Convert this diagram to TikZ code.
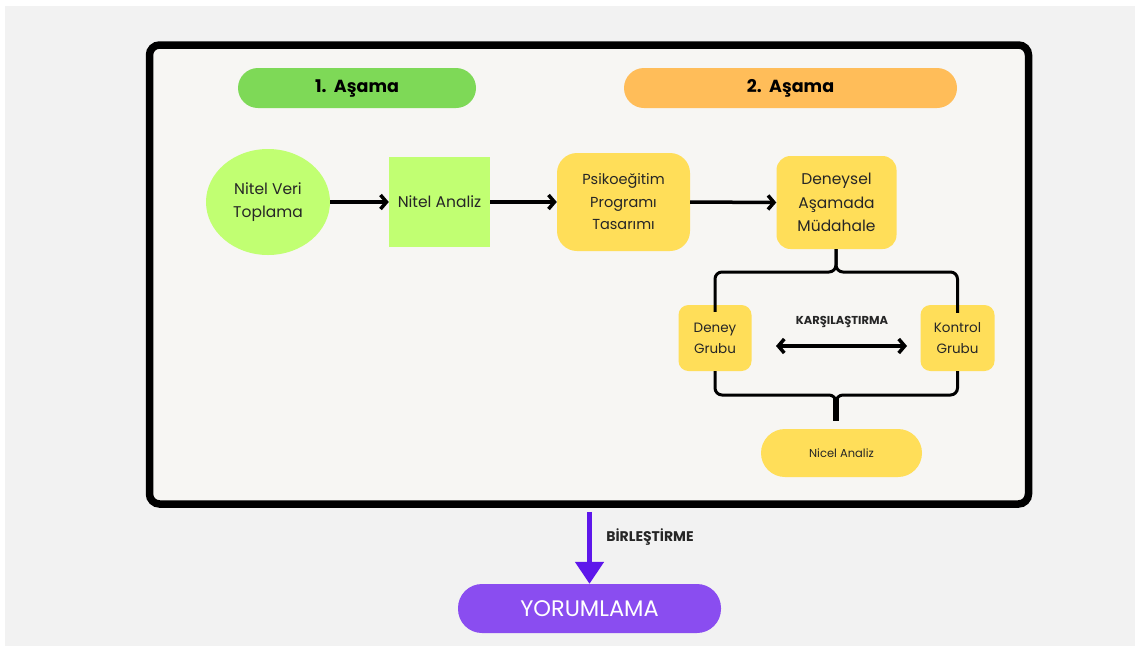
\documentclass[tikz,border=0pt]{standalone}
\usepackage{fontspec}
\setmainfont{Poppins}
\usetikzlibrary{arrows.meta,shapes.geometric}

\definecolor{pagegray}{HTML}{F2F2F2}
\definecolor{panelfill}{HTML}{F7F6F3}
\definecolor{stagegreen}{HTML}{7ED957}
\definecolor{stageorange}{HTML}{FFBD59}
\definecolor{lime}{HTML}{C1FF72}
\definecolor{sun}{HTML}{FFDE59}
\definecolor{violetline}{HTML}{5E17EB}
\definecolor{violetfill}{HTML}{8A4DF0}

\tikzset{
  stagepill/.style={rounded corners=20pt, minimum height=40pt, inner sep=0pt,
    font=\fontsize{17.5}{20}\selectfont\bfseries},
  bodytext/.style={align=center, text=black!85, font=\fontsize{15.5}{23.5}\selectfont},
  sunbox/.style={bodytext, fill=sun, inner sep=0pt},
  flow/.style={line width=3.5pt, -{Straight Barb[length=6pt,width=14pt]}},
  twoway/.style={line width=3.5pt, {Straight Barb[length=6pt,width=14pt]}-{Straight Barb[length=6pt,width=14pt]}},
  brace/.style={line width=3pt, rounded corners=7pt},
  smalllabel/.style={font=\fontsize{11.5}{13}\selectfont\bfseries, text=black!85},
}

\begin{document}
\begin{tikzpicture}[x=1pt,y=-1pt]
  \useasboundingbox (0,0) rectangle (1135,646);
  \fill[white] (0,0) rectangle (1135,646);
  \fill[pagegray] (5,6) rectangle (1135,646);

  % main panel
  \node[draw=black, line width=7.5pt, fill=panelfill, rounded corners=10pt,
        minimum width=879pt, minimum height=459pt, inner sep=0pt] (panel) at (589,274.5) {};

  % stage headers
  \node[stagepill, fill=stagegreen, minimum width=238pt] (stage1) at (357,88) {1.\ \ Aşama};
  \node[stagepill, fill=stageorange, minimum width=333pt] (stage2) at (790.5,88) {2.\ \ Aşama};

  % first row
  \node[bodytext, ellipse, fill=lime, minimum width=124pt, minimum height=106pt, inner sep=0pt]
    (collect) at (268,202) {Nitel Veri\\Toplama};
  \node[bodytext, fill=lime, minimum width=101pt, minimum height=90pt, inner sep=0pt]
    (qual) at (439.5,202) {Nitel Analiz};
  \node[sunbox, rounded corners=20pt, minimum width=133pt, minimum height=98pt,
        font=\fontsize{14.5}{22.5}\selectfont]
    (design) at (623.5,202) {Psikoeğitim\\Programı\\Tasarımı};
  \node[sunbox, rounded corners=14pt, minimum width=120pt, minimum height=93pt]
    (interv) at (836.5,202.5) {Deneysel\\Aşamada\\Müdahale};

  \draw[flow] (collect.east) -- (qual.west);
  \draw[flow] (qual.east) -- (design.west);
  \draw[flow] (design.east) -- (interv.west);

  % groups
  \node[sunbox, rounded corners=10pt, minimum width=73pt, minimum height=66pt,
        font=\fontsize{13.5}{21}\selectfont] (exp) at (715,338) {Deney\\Grubu};
  \node[sunbox, rounded corners=10pt, minimum width=74pt, minimum height=66pt,
        font=\fontsize{13.5}{21}\selectfont] (ctrl) at (957.5,338) {Kontrol\\Grubu};
  \node[sunbox, rounded corners=24pt, minimum width=161pt, minimum height=48pt,
        font=\fontsize{11.5}{14}\selectfont] (quant) at (841.5,453) {Nicel Analiz};

  % upper brace
  \coordinate (topjoin) at (836,272);
  \draw[brace] ([yshift=-7pt]exp.north) -- (exp.north |- topjoin) -- (topjoin) -- (topjoin |- interv.south);
  \draw[brace] ([yshift=-8pt]ctrl.north) -- (ctrl.north |- topjoin) -- (topjoin) -- (topjoin |- interv.south);

  % lower brace
  \coordinate (lowjoin) at (836,395);
  \draw[brace] (exp.south) -- (exp.south |- lowjoin) -- (lowjoin) -- ([yshift=-3pt]lowjoin);
  \draw[brace] (ctrl.south) -- (ctrl.south |- lowjoin) -- (lowjoin) -- ([yshift=-3pt]lowjoin);
  \draw[line width=6pt] ([yshift=-3pt]lowjoin) -- (lowjoin |- 0,421);

  % comparison
  \coordinate (cmpL) at (776,346);
  \coordinate (cmpR) at (907,346);
  \draw[twoway] (cmpL) -- (cmpR);
  \node[smalllabel] (cmp) at (842,322) {KARŞILAŞTIRMA};

  % result
  \node[fill=violetfill, text=white, rounded corners=24pt, minimum width=263pt, minimum height=49pt,
        inner sep=0pt, font=\fontsize{22.5}{26}\selectfont] (interp) at (589.5,608.5) {YORUMLAMA};
  \draw[violetline, line width=5pt, -{Triangle[width=28pt,length=22pt]}, shorten <=4pt]
    (panel.south -| interp.north) -- (interp.north);
  \node[smalllabel, font=\fontsize{14}{16}\selectfont\bfseries] (merge) at (650,537) {BİRLEŞTİRME};
\end{tikzpicture}
\end{document}
